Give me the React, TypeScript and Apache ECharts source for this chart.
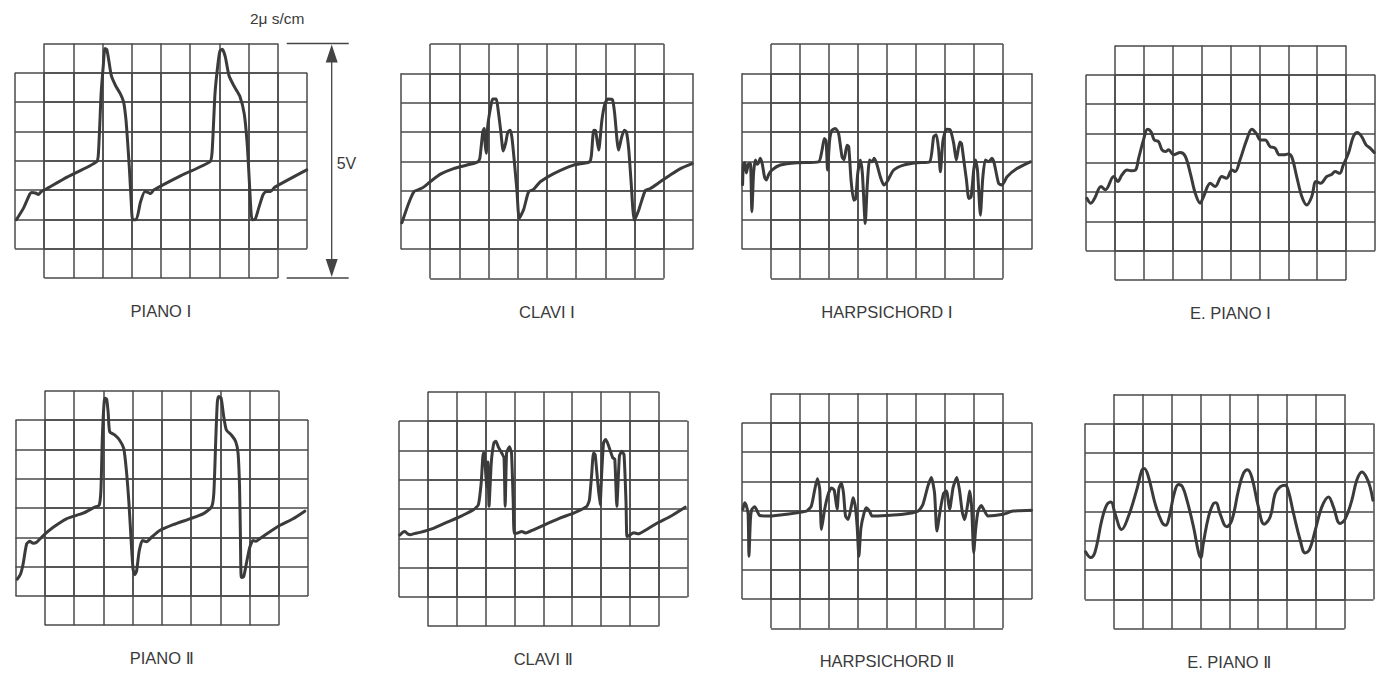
import React, { useEffect, useRef } from "react";
import * as echarts from "echarts";

// Waveforms: [time (div), level (div)] with 0..10 horizontal, 0..8 vertical divisions
const PIANO_1: number[][] = [
  [0.05, 1.99], [0.3, 2.4], [0.5, 2.85], [0.57, 2.92], [0.7, 2.9], [0.8, 2.85], [0.9, 2.95], [1.0, 3.0],
  [1.8, 3.45], [2.8, 3.97], [2.86, 4.3], [2.95, 6.3], [3.02, 7.2], [3.08, 7.83], [3.14, 7.8], [3.2, 7.5],
  [3.3, 6.9], [3.45, 6.55], [3.6, 6.3], [3.72, 6.0], [3.8, 5.4], [3.86, 4.6], [3.92, 3.7], [3.98, 2.6],
  [4.03, 1.99], [4.15, 1.99], [4.3, 2.6], [4.45, 2.95], [4.55, 2.92], [4.65, 2.88], [4.75, 3.0], [5.7, 3.5],
  [6.68, 3.97], [6.75, 4.3], [6.85, 6.3], [6.95, 7.3], [7.02, 7.75], [7.1, 7.8], [7.2, 7.55], [7.33, 6.9],
  [7.5, 6.55], [7.7, 6.2], [7.85, 5.6], [7.95, 4.6], [8.02, 3.4], [8.08, 2.3], [8.12, 1.99], [8.22, 2.0],
  [8.35, 2.4], [8.5, 2.85], [8.6, 2.95], [8.75, 2.95], [8.9, 3.1], [9.99, 3.69],
];
const CLAVI_1: number[][] = [
  [0.03, 1.9], [0.26, 2.56], [0.45, 2.97], [0.6, 3.03], [0.75, 3.1], [1.0, 3.3], [1.35, 3.56], [1.8, 3.75],
  [2.26, 3.87], [2.63, 3.98], [2.7, 4.1], [2.8, 5.0], [2.85, 5.12], [2.88, 4.6], [2.92, 4.27], [2.97, 5.2],
  [3.08, 5.9], [3.14, 6.12], [3.26, 6.12], [3.32, 5.8], [3.42, 5.0], [3.5, 4.35], [3.58, 4.6], [3.66, 5.0],
  [3.74, 5.06], [3.8, 4.8], [3.88, 4.0], [3.97, 3.0], [4.05, 2.05], [4.2, 2.35], [4.37, 2.96], [4.54, 3.04],
  [4.77, 3.3], [5.23, 3.58], [5.91, 3.87], [6.46, 3.98], [6.52, 4.2], [6.6, 5.06], [6.66, 5.05], [6.77, 4.38],
  [6.88, 5.4], [6.98, 5.95], [7.08, 6.12], [7.24, 6.1], [7.32, 5.6], [7.4, 4.7], [7.45, 4.38], [7.55, 4.8],
  [7.65, 5.06], [7.72, 5.0], [7.8, 4.4], [7.88, 3.3], [7.99, 1.99], [8.14, 2.33], [8.37, 3.01], [8.54, 3.07],
  [8.88, 3.3], [9.22, 3.53], [9.57, 3.75], [9.97, 3.92],
];
const HARPSICHORD_1: number[][] = [
  [0.02, 3.2], [0.05, 3.9], [0.1, 3.95], [0.15, 3.6], [0.22, 3.9], [0.29, 3.92], [0.34, 2.28], [0.4, 3.6],
  [0.46, 4.04], [0.52, 3.9], [0.57, 3.95], [0.63, 4.1], [0.7, 3.9], [0.78, 3.45], [0.84, 3.36], [0.92, 3.55],
  [1.03, 3.7], [1.32, 3.87], [1.9, 3.95], [2.64, 3.98], [2.76, 4.38], [2.84, 4.78], [2.9, 4.7], [2.95, 3.7],
  [3.02, 4.7], [3.1, 5.06], [3.22, 5.12], [3.33, 4.95], [3.45, 4.15], [3.52, 4.05], [3.62, 4.55], [3.68, 4.5],
  [3.76, 3.36], [3.85, 2.67], [3.92, 2.72], [3.99, 3.58], [4.08, 4.04], [4.15, 3.6], [4.25, 1.88], [4.32, 3.2],
  [4.4, 4.04], [4.48, 3.98], [4.56, 4.1], [4.65, 3.9], [4.77, 3.47], [4.89, 3.19], [5.0, 3.3], [5.23, 3.7],
  [5.57, 3.87], [6.03, 3.95], [6.47, 3.98], [6.61, 4.84], [6.7, 4.9], [6.78, 4.4], [6.84, 3.64], [6.93, 4.7],
  [7.05, 5.09], [7.18, 5.07], [7.3, 4.61], [7.39, 4.04], [7.51, 4.66], [7.57, 4.6], [7.66, 3.95], [7.74, 3.36],
  [7.82, 2.73], [7.9, 2.78], [7.99, 3.7], [8.05, 4.04], [8.12, 3.7], [8.22, 2.16], [8.3, 3.4], [8.39, 4.04],
  [8.5, 3.98], [8.62, 4.1], [8.7, 3.92], [8.85, 3.24], [8.97, 3.19], [9.14, 3.47], [9.48, 3.75], [9.94, 3.98],
];
const E_PIANO_1: number[][] = [
  [0.03, 2.79], [0.17, 2.62], [0.3, 2.79], [0.52, 3.19], [0.67, 3.08], [0.96, 3.53], [1.1, 3.36], [1.24, 3.58],
  [1.42, 3.75], [1.56, 3.73], [1.71, 3.75], [1.82, 4.15], [1.99, 4.78], [2.13, 5.14], [2.25, 5.06], [2.36, 4.78],
  [2.51, 4.72], [2.63, 4.44], [2.75, 4.38], [2.86, 4.44], [3.03, 4.27], [3.26, 4.35], [3.43, 4.23], [3.61, 3.64],
  [3.78, 2.96], [3.95, 2.62], [4.07, 2.85], [4.3, 3.3], [4.47, 3.19], [4.7, 3.53], [4.86, 3.47], [5.05, 3.75],
  [5.16, 3.7], [5.33, 4.1], [5.56, 4.78], [5.74, 5.14], [5.89, 5.0], [6.03, 4.78], [6.2, 4.78], [6.37, 4.55],
  [6.54, 4.5], [6.69, 4.27], [6.85, 4.27], [7.0, 4.3], [7.12, 4.2], [7.29, 3.53], [7.47, 2.84], [7.64, 2.56],
  [7.81, 2.84], [7.96, 3.36], [8.12, 3.3], [8.33, 3.53], [8.5, 3.6], [8.62, 3.7], [8.78, 3.64], [8.9, 3.92],
  [9.08, 4.32], [9.25, 4.89], [9.39, 5.03], [9.54, 4.89], [9.69, 4.61], [9.83, 4.5], [9.97, 4.35],
];
const PIANO_2: number[][] = [
  [0.06, 1.57], [0.17, 1.74], [0.26, 2.09], [0.38, 2.77], [0.49, 2.86], [0.6, 2.8], [0.72, 2.83], [0.95, 3.06],
  [1.29, 3.34], [1.74, 3.63], [2.31, 3.82], [2.71, 4.03], [2.86, 4.09], [2.92, 4.6], [2.97, 6.43], [3.03, 7.6],
  [3.07, 7.74], [3.12, 7.7], [3.17, 7.23], [3.22, 6.6], [3.39, 6.49], [3.56, 6.31], [3.7, 6.03], [3.79, 5.29],
  [3.88, 4.14], [3.96, 2.77], [4.02, 1.91], [4.08, 1.72], [4.14, 1.85], [4.23, 2.54], [4.34, 2.89], [4.48, 2.85],
  [4.65, 3.0], [4.93, 3.23], [5.39, 3.43], [5.96, 3.63], [6.41, 3.8], [6.7, 4.03], [6.78, 4.5], [6.85, 6.43],
  [6.9, 7.6], [6.95, 7.8], [7.03, 7.75], [7.12, 7.11], [7.21, 6.66], [7.38, 6.49], [7.53, 6.26], [7.61, 5.86],
  [7.66, 4.71], [7.69, 3.0], [7.72, 1.63], [7.8, 1.65], [7.89, 2.09], [8.01, 2.66], [8.12, 2.89], [8.22, 2.86],
  [8.35, 2.95], [8.58, 3.11], [9.03, 3.4], [9.49, 3.63], [9.89, 3.89],
];
const CLAVI_2: number[][] = [
  [0.03, 3.11], [0.12, 3.2], [0.21, 3.23], [0.3, 3.15], [0.4, 3.12], [0.5, 3.15], [0.73, 3.2], [1.19, 3.34],
  [1.65, 3.54], [2.12, 3.74], [2.58, 3.97], [2.75, 4.14], [2.85, 4.9], [2.92, 5.91], [2.96, 5.9], [3.04, 4.77],
  [3.08, 5.6], [3.12, 4.09], [3.2, 5.6], [3.29, 6.26], [3.36, 6.31], [3.45, 6.1], [3.56, 5.91], [3.64, 5.74],
  [3.68, 4.09], [3.73, 5.91], [3.83, 6.12], [3.9, 5.9], [3.96, 4.2], [3.99, 3.17], [4.08, 3.17], [4.25, 3.23],
  [4.4, 3.18], [4.66, 3.29], [5.12, 3.49], [5.58, 3.69], [6.05, 3.86], [6.51, 4.09], [6.6, 4.31], [6.68, 5.2],
  [6.74, 5.91], [6.8, 5.85], [6.88, 5.0], [6.97, 4.14], [7.03, 5.3], [7.09, 6.26], [7.16, 6.37], [7.25, 6.2],
  [7.41, 5.74], [7.48, 5.7], [7.55, 4.09], [7.64, 5.8], [7.72, 5.97], [7.8, 5.85], [7.87, 4.2], [7.9, 3.06],
  [7.99, 3.1], [8.13, 3.19], [8.3, 3.15], [8.47, 3.23], [8.94, 3.51], [9.4, 3.74], [9.92, 4.06],
];
const HARPSICHORD_2: number[][] = [
  [0.03, 4.05], [0.09, 4.27], [0.14, 4.2], [0.21, 3.9], [0.24, 2.45], [0.29, 3.7], [0.34, 4.05], [0.44, 4.14],
  [0.52, 4.0], [0.61, 3.84], [0.95, 3.82], [1.53, 3.88], [2.22, 3.99], [2.39, 4.16], [2.51, 4.73], [2.6, 5.09],
  [2.68, 4.73], [2.74, 3.36], [2.85, 4.05], [2.97, 4.56], [3.08, 4.78], [3.18, 4.7], [3.28, 4.05], [3.34, 4.75],
  [3.43, 4.95], [3.5, 4.6], [3.57, 3.82], [3.66, 3.7], [3.77, 4.16], [3.83, 4.44], [3.9, 4.2], [3.97, 3.48],
  [4.03, 2.45], [4.1, 3.4], [4.21, 3.93], [4.29, 4.1], [4.4, 3.98], [4.49, 3.82], [4.98, 3.84], [5.55, 3.88],
  [6.07, 3.99], [6.24, 4.22], [6.41, 4.84], [6.53, 5.13], [6.64, 4.6], [6.72, 3.31], [6.84, 4.05], [6.95, 4.59],
  [7.05, 4.67], [7.16, 4.05], [7.28, 4.8], [7.41, 5.13], [7.5, 4.7], [7.6, 3.93], [7.68, 3.7], [7.79, 4.27],
  [7.85, 4.67], [7.92, 4.1], [7.99, 2.57], [8.06, 3.4], [8.14, 3.99], [8.25, 4.18], [8.36, 4.0], [8.48, 3.82],
  [9.0, 3.88], [9.34, 3.99], [9.98, 4.02],
];
const E_PIANO_2: number[][] = [
  [0.02, 2.63], [0.2, 2.43], [0.35, 2.63], [0.58, 3.7], [0.75, 4.22], [0.9, 4.33], [1.04, 3.93], [1.27, 3.39],
  [1.5, 3.82], [1.79, 4.73], [1.97, 5.41], [2.05, 5.47], [2.2, 5.18], [2.43, 4.27], [2.66, 3.65], [2.8, 3.53],
  [2.92, 3.82], [3.09, 4.61], [3.24, 4.92], [3.38, 4.84], [3.55, 4.33], [3.76, 3.48], [3.93, 2.63], [4.01, 2.43],
  [4.1, 2.91], [4.28, 3.82], [4.45, 4.27], [4.54, 4.3], [4.68, 3.93], [4.91, 3.48], [5.09, 3.7], [5.32, 4.73],
  [5.49, 5.3], [5.63, 5.43], [5.78, 5.18], [6.01, 4.16], [6.21, 3.57], [6.42, 3.82], [6.59, 4.61], [6.76, 4.84],
  [6.94, 4.9], [7.05, 4.7], [7.23, 3.93], [7.46, 3.02], [7.63, 2.59], [7.78, 2.7], [7.98, 3.36], [8.21, 4.16],
  [8.44, 4.5], [8.61, 4.16], [8.84, 3.59], [9.02, 3.75], [9.25, 4.39], [9.42, 5.07], [9.6, 5.35], [9.75, 5.18],
  [9.88, 4.84], [9.98, 4.39],
];

const TITLES = [
  "PIANO Ⅰ", "CLAVI Ⅰ", "HARPSICHORD Ⅰ", "E. PIANO Ⅰ",
  "PIANO Ⅱ", "CLAVI Ⅱ", "HARPSICHORD Ⅱ", "E. PIANO Ⅱ",
];
const WAVES = [PIANO_1, CLAVI_1, HARPSICHORD_1, E_PIANO_1, PIANO_2, CLAVI_2, HARPSICHORD_2, E_PIANO_2];
const SMOOTH = [0.2, 0.2, 0.2, 0.35, 0.2, 0.15, 0.2, 0.4];
const X_DIVS = 10;
const Y_DIVS = 8;
const TIME_BASE = "2μ s/cm";
const VOLT_SPAN = "5V";

// Layout (pixels): left, top, width, height of each screen
const BOXES: number[][] = [
  [15, 43.5, 292, 234.5],
  [401, 44, 292, 234.5],
  [742, 44, 290, 234.5],
  [1086, 45.5, 289, 234.5],
  [15.5, 390.7, 292.5, 234.5],
  [399, 391.7, 288.5, 234.5],
  [742, 393.3, 290, 235],
  [1085, 394.3, 288.5, 234.5],
];

const GRID_COLOR = "#4a4a4a";
const TRACE_COLOR = "#3b3b3b";
const TEXT_COLOR = "#3a3a3a";
const FONT = '"Liberation Sans", Arial, "DejaVu Sans", "Noto Sans CJK JP", sans-serif';

function axis(gridIndex: number, min: number, max: number, lines: boolean) {
  return {
    type: "value",
    gridIndex,
    min,
    max,
    interval: 1,
    axisLine: { show: false },
    axisTick: { show: false },
    axisLabel: { show: false },
    splitLine: { show: lines, lineStyle: { color: GRID_COLOR, width: 1.5 } },
  };
}

export default function App() {
  const ref = useRef<HTMLDivElement>(null);
  useEffect(() => {
    document.body.style.margin = "0";
    const chart = echarts.init(ref.current!, null, { renderer: "svg" });
    const grid: any[] = [];
    const xAxis: any[] = [];
    const yAxis: any[] = [];
    const series: any[] = [];
    const graphic: any[] = [];

    BOXES.forEach((b, i) => {
      const [L, T, W, H] = b;
      const cw = W / X_DIVS;
      const ch = H / Y_DIVS;
      // wide band of graticule
      let gi = grid.length;
      grid.push({ left: L, top: T + ch, width: W, height: H - 2 * ch });
      xAxis.push(axis(gi, 0, X_DIVS, true));
      yAxis.push(axis(gi, 1, Y_DIVS - 1, true));
      // narrow (tall) band of graticule
      gi = grid.length;
      grid.push({ left: L + cw, top: T, width: W - 2 * cw, height: H });
      xAxis.push(axis(gi, 1, X_DIVS - 1, true));
      yAxis.push(axis(gi, 0, Y_DIVS, true));
      // data grid covering whole screen
      gi = grid.length;
      grid.push({ left: L, top: T, width: W, height: H });
      xAxis.push(axis(gi, 0, X_DIVS, false));
      yAxis.push(axis(gi, 0, Y_DIVS, false));
      series.push({
        type: "line",
        name: TITLES[i],
        xAxisIndex: gi,
        yAxisIndex: gi,
        data: WAVES[i],
        symbol: "none",
        smooth: SMOOTH[i],
        clip: false,
        z: 5,
        lineStyle: { color: TRACE_COLOR, width: 3, cap: "round", join: "round" },
      });
      graphic.push({
        type: "text",
        x: L + W / 2,
        y: T + H + 33,
        style: {
          text: TITLES[i],
          fill: TEXT_COLOR,
          font: `16.5px ${FONT}`,
          textAlign: "center",
          textVerticalAlign: "middle",
        },
      });
    });

    // scale annotations next to first screen
    const [L0, T0, W0, H0] = BOXES[0];
    const ax = L0 + W0 + 24.7;
    const top = T0;
    const bot = T0 + H0;
    const lineStyle = { stroke: "#444", lineWidth: 1.3 };
    graphic.push(
      { type: "line", shape: { x1: ax - 45, y1: top, x2: ax + 17, y2: top }, style: lineStyle },
      { type: "line", shape: { x1: ax - 45, y1: bot, x2: ax + 17, y2: bot }, style: lineStyle },
      { type: "line", shape: { x1: ax, y1: top + 10, x2: ax, y2: bot - 10 }, style: lineStyle },
      { type: "polygon", shape: { points: [[ax, top + 1], [ax - 6, top + 19], [ax + 6, top + 19]] }, style: { fill: "#444" } },
      { type: "polygon", shape: { points: [[ax, bot - 1], [ax - 6, bot - 19], [ax + 6, bot - 19]] }, style: { fill: "#444" } },
      {
        type: "text",
        x: ax + 5,
        y: T0 + H0 * 0.51,
        style: { text: VOLT_SPAN, fill: TEXT_COLOR, font: `16px ${FONT}`, textAlign: "left", textVerticalAlign: "middle" },
      },
      {
        type: "text",
        x: L0 + W0 * 0.898,
        y: 18,
        style: { text: TIME_BASE, fill: TEXT_COLOR, font: `15.5px ${FONT}`, textAlign: "center", textVerticalAlign: "middle" },
      }
    );

    chart.setOption({
      animation: false,
      backgroundColor: "#ffffff",
      grid,
      xAxis,
      yAxis,
      series,
      graphic,
    });
    return () => chart.dispose();
  }, []);
  return (
    <div
      ref={ref}
      style={{ position: "absolute", left: 0, top: 0, width: 1386, height: 677, background: "#fff" }}
    />
  );
}
